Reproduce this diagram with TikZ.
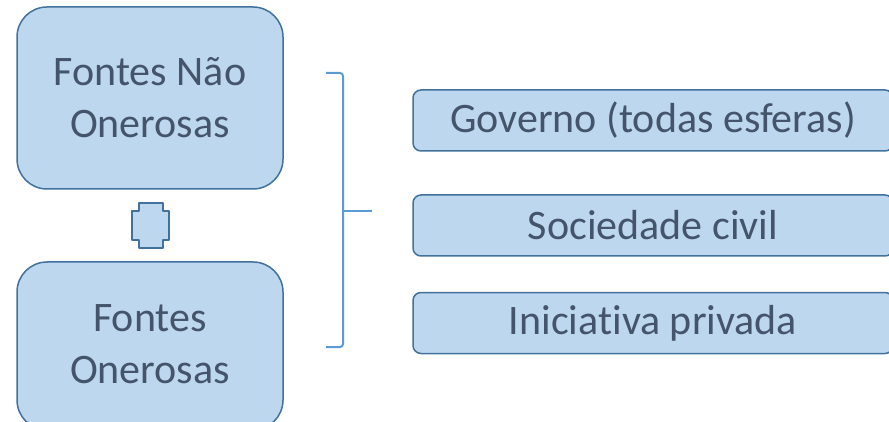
\documentclass[tikz,border=0pt]{standalone}
\usepackage{fontspec}
\setmainfont[Ligatures=NoCommon]{Carlito}
\definecolor{boxfill}{HTML}{BDD7EE}
\definecolor{boxline}{HTML}{41719C}
\definecolor{txt}{HTML}{44546A}
\definecolor{brace}{HTML}{5B9BD5}
\begin{document}
\begin{tikzpicture}[x=1pt,y=-1pt,
  bigbox/.style={draw=boxline, fill=boxfill, line width=1.5pt, rounded corners=30pt,
    minimum width=266pt, inner sep=0pt, text=txt, align=center,
    font=\fontsize{42}{52}\selectfont},
  smallbox/.style={draw=boxline, fill=boxfill, line width=1.5pt, rounded corners=8pt,
    minimum width=480pt, minimum height=61pt, inner sep=0pt, text=txt,
    font=\fontsize{42}{50}\selectfont},
  bracestyle/.style={draw=brace, line width=2pt}]
\useasboundingbox (0,0) rectangle (889,422);
\begin{scope}
\clip (0,0) rectangle (889,422);
\node[bigbox, minimum height=182pt] (nao) at (150,98) {Fontes Não\\Onerosas};
\node[bigbox, minimum height=168pt] (oner) at (150,346) {};
\node[text=txt, align=center, font=\fontsize{42}{52}\selectfont] (onertxt) at (150,344) {Fontes\\Onerosas};
\node[smallbox] (gov) at (653,120.5) {Governo (todas esferas)};
\node[smallbox] (soc) at (653,225.5) {Sociedade civil};
\node[smallbox] (ini) at (653,323) {Iniciativa privada};
\end{scope}
% plus sign
\draw[draw=boxline, fill=boxfill, line width=1.5pt, line join=round]
  (139,203) -- (163,203) -- (163,211) -- (169,211) -- (169,240) -- (163,240)
  -- (163,248) -- (139,248) -- (139,240) -- (132,240) -- (132,211) -- (139,211) -- cycle;
% brace
\coordinate (btop) at (326,73);
\coordinate (bbot) at (326,347);
\coordinate (btip) at (372,211);
\draw[bracestyle, rounded corners=3pt] (btop) -- (343,73) -- (343,347) -- (bbot);
\draw[bracestyle] (343,211) -- (btip);
\end{tikzpicture}
\end{document}
